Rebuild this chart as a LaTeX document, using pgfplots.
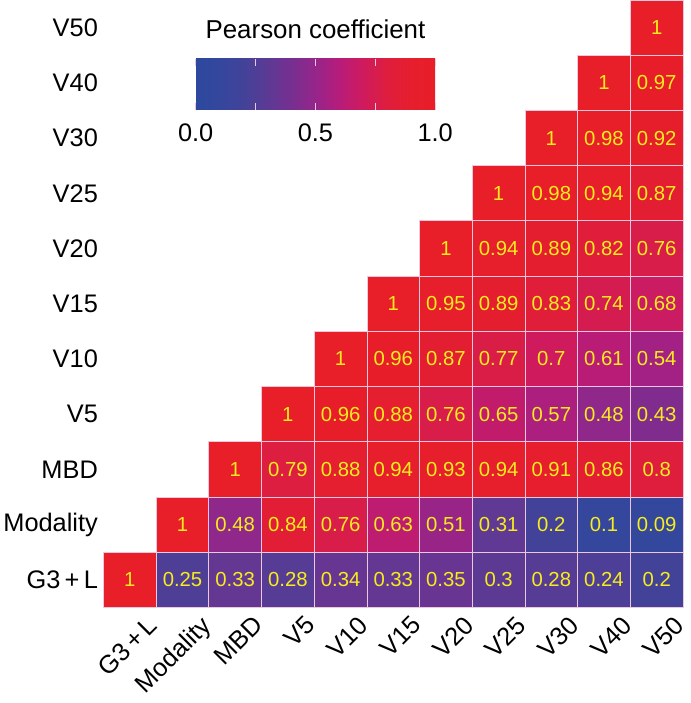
\documentclass[border=0pt]{standalone}
\usepackage{pgfplots}
\usepackage{pgfplotstable}
\pgfplotsset{compat=1.18}
\usepackage{fontspec}
\setmainfont{Liberation Sans}
\definecolor{numyellow}{RGB}{246,236,30}
\definecolor{cellborder}{RGB}{236,200,222}
\pgfplotstableread{
x y c
0 0 1
1 0 0.25
2 0 0.33
3 0 0.28
4 0 0.34
5 0 0.33
6 0 0.35
7 0 0.3
8 0 0.28
9 0 0.24
10 0 0.2
1 1 1
2 1 0.48
3 1 0.84
4 1 0.76
5 1 0.63
6 1 0.51
7 1 0.31
8 1 0.2
9 1 0.1
10 1 0.09
2 2 1
3 2 0.79
4 2 0.88
5 2 0.94
6 2 0.93
7 2 0.94
8 2 0.91
9 2 0.86
10 2 0.8
3 3 1
4 3 0.96
5 3 0.88
6 3 0.76
7 3 0.65
8 3 0.57
9 3 0.48
10 3 0.43
4 4 1
5 4 0.96
6 4 0.87
7 4 0.77
8 4 0.7
9 4 0.61
10 4 0.54
5 5 1
6 5 0.95
7 5 0.89
8 5 0.83
9 5 0.74
10 5 0.68
6 6 1
7 6 0.94
8 6 0.89
9 6 0.82
10 6 0.76
7 7 1
8 7 0.98
9 7 0.94
10 7 0.87
8 8 1
9 8 0.98
10 8 0.92
9 9 1
10 9 0.97
10 10 1
}\corr
\begin{document}
\begin{tikzpicture}
\begin{axis}[
  x=51.9pt, y=54.4pt,
  xmin=-0.5, xmax=10.5, ymin=-0.5, ymax=10.5,
  axis line style={draw=none}, tick style={draw=none},
  xtick={0,...,10}, ytick={0,...,10},
  xticklabels={G3\,+\,L,Modality,MBD,V5,V10,V15,V20,V25,V30,V40,V50},
  yticklabels={G3\,+\,L,Modality,MBD,V5,V10,V15,V20,V25,V30,V40,V50},
  ticklabel style={font=\fontsize{25}{30}\selectfont},
  xticklabel style={rotate=45, anchor=north east, xshift=10pt, yshift=-13pt},
  yticklabel style={xshift=-2pt},
  /pgf/number format/assume math mode=true,
  colormap={pc}{rgb255=(45,72,158) rgb255=(52,71,157) rgb255=(67,66,153) rgb255=(92,58,148) rgb255=(119,47,144) rgb255=(150,37,138) rgb255=(183,28,122) rgb255=(207,27,93) rgb255=(223,30,62) rgb255=(230,30,45) rgb255=(232,30,40)},
  point meta min=0, point meta max=1,
  colorbar horizontal,
  colorbar/width=50pt,
  colorbar style={
    at={(0.159,0.903)}, anchor=north west,
    width=236pt,
    xtick={0,0.25,0.5,0.75,1}, xticklabels={0.0,,0.5,,1.0},
    xtick pos=both, xticklabel pos=lower,
    tick align=inside, major tick length=7pt,
    xtick style={draw=cellborder, line width=0.8pt},
    axis line style={draw=none},
    ticklabel style={font=\fontsize{25}{30}\selectfont},
    xticklabel style={yshift=-10pt},
    /pgf/number format/assume math mode=true,
    title={Pearson coefficient},
    title style={font=\fontsize{25.5}{30}\selectfont, yshift=10pt},
  },
  clip=false,
]
\addplot[scatter, only marks, mark=square*, mark size=25.95pt,
  point meta=explicit,
  scatter/use mapped color={draw=cellborder, fill=mapped color, line width=0.8pt, yscale=1.048}]
  table[x=x,y=y,meta=c]{\corr};
\addplot[draw=none, mark=none, point meta=explicit,
  nodes near coords={\pgfmathprintnumber[fixed,precision=2,assume math mode=true]{\pgfplotspointmeta}},
  every node near coord/.append style={anchor=center, text=numyellow, font=\fontsize{20}{24}\selectfont}]
  table[x=x,y=y,meta=c]{\corr};
\end{axis}
\end{tikzpicture}
\end{document}
